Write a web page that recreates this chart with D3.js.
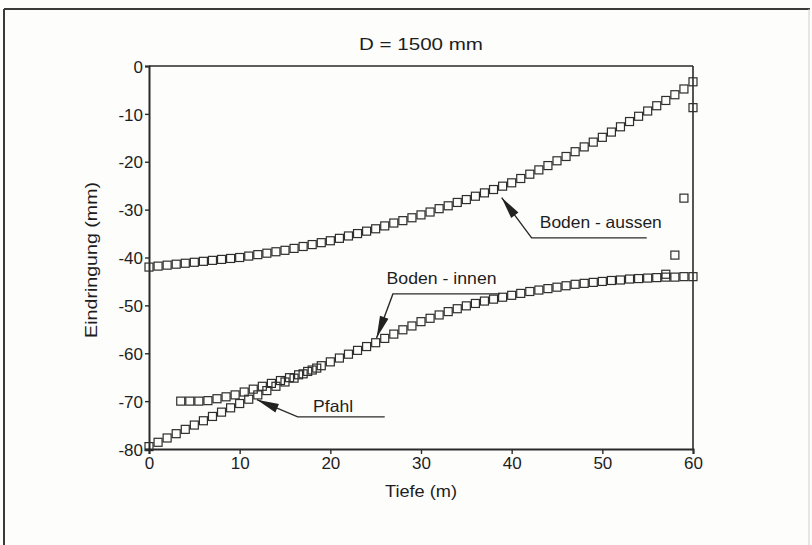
<!DOCTYPE html>
<html>
<head>
<meta charset="utf-8">
<script src="https://cdn.jsdelivr.net/npm/d3@7"></script>
<style>
  html, body { margin: 0; padding: 0; background: #fdfdfc; }
  svg { display: block; }
  text { font-family: "Liberation Sans", Arial, sans-serif; fill: #1e1e1e; }
</style>
</head>
<body>
<svg id="chart" width="812" height="545"></svg>
<script>
// ---------- data ----------
const title = "D = 1500 mm";
const xLabel = "Tiefe (m)";
const yLabel = "Eindringung (mm)";
const xTicks = [0, 10, 20, 30, 40, 50, 60];
const yTicks = [0, -10, -20, -30, -40, -50, -60, -70, -80];

const aussenX = d3.range(0, 61);
const aussenY = [-42.0,-41.8,-41.6,-41.4,-41.2,-41.0,-40.8,-40.6,-40.4,-40.2,
  -40.0,-39.7,-39.4,-39.1,-38.8,-38.5,-38.1,-37.7,-37.3,-36.9,
  -36.5,-36.0,-35.5,-35.0,-34.5,-34.0,-33.4,-32.8,-32.3,-31.7,
  -31.1,-30.5,-29.8,-29.2,-28.5,-27.9,-27.2,-26.5,-25.8,-25.1,
  -24.4,-23.5,-22.6,-21.7,-20.8,-19.8,-18.9,-17.9,-16.9,-15.9,
  -14.9,-13.8,-12.7,-11.6,-10.5,-9.4,-8.3,-7.2,-6.0,-4.8,-3.3];

const innenX = d3.range(0, 61);
const innenY = [-79.5,-78.6,-77.7,-76.8,-75.9,-75.0,-74.1,-73.2,-72.3,-71.4,
  -70.5,-69.6,-68.7,-67.8,-66.9,-66.0,-65.2,-64.3,-63.5,-62.6,
  -61.8,-61.0,-60.2,-59.4,-58.6,-57.8,-56.9,-56.0,-55.1,-54.3,
  -53.4,-52.7,-52.0,-51.3,-50.7,-50.1,-49.6,-49.1,-48.7,-48.3,
  -47.9,-47.5,-47.1,-46.8,-46.5,-46.2,-45.9,-45.6,-45.4,-45.2,
  -45.0,-44.8,-44.7,-44.5,-44.4,-44.3,-44.2,-44.1,-44.1,-44.0,-44.0];

const pfahlX = [3.5,4.5,5.5,6.5,7.5,8.5,9.5,10.5,11.5,12.5,13.5,14.5,15.5,16.5,17.5,18.5,
  57,58,59,60];
const pfahlY = [-70.0,-70.0,-70.0,-69.9,-69.5,-69.1,-68.7,-68.1,-67.5,-66.9,-66.3,-65.7,-65.1,-64.5,-63.8,-63.1,
  -43.5,-39.5,-27.6,-8.7];

// annotations: label, arrow tip, elbow, end of underline (data coords)
const annoLabels = ["Boden - aussen", "Boden - innen", "Pfahl"];
const annoTip   = [[38.9,-27.5],[25.1,-56.8],[11.9,-69.7]];
const annoElbow = [[42.2,-35.9],[26.9,-47.6],[16.4,-73.3]];
const annoEndX  = [54.9, 38.7, 26.0];
const annoTextAt = [[43.1,-33.8],[26.2,-45.6],[18.1,-72.2]];
const annoTextLen = [122, 110, 40];

// ---------- drawing ----------
const svg = d3.select("#chart");
const x = d3.scaleLinear().domain([0, 60]).range([149, 693]);
const y = d3.scaleLinear().domain([-80, 0]).range([449, 66]);
const ink = "#2a2a2a";

// outer page frame
svg.append("line").attr("x1", 4).attr("y1", 9).attr("x2", 4).attr("y2", 545)
  .attr("stroke", "#3a3a3a").attr("stroke-width", 2);
svg.append("line").attr("x1", 4).attr("y1", 9).attr("x2", 810).attr("y2", 9)
  .attr("stroke", "#3a3a3a").attr("stroke-width", 2);
svg.append("line").attr("x1", 809).attr("y1", 9).attr("x2", 809).attr("y2", 545)
  .attr("stroke", "#cfcfcf").attr("stroke-width", 1);

// title
svg.append("text").attr("x", x(30)).attr("y", 50)
  .attr("text-anchor", "middle").attr("font-size", 16.5)
  .attr("textLength", 124).attr("lengthAdjust", "spacingAndGlyphs")
  .text(title);

// plot frame (top & right)
svg.append("line").attr("x1", x(0)).attr("x2", x(60)).attr("y1", y(0)).attr("y2", y(0))
  .attr("stroke", ink).attr("stroke-width", 1.6);
svg.append("line").attr("x1", x(60)).attr("x2", x(60)).attr("y1", y(0)).attr("y2", y(-80))
  .attr("stroke", ink).attr("stroke-width", 1.6);

// axes
const fmt = d => String(d);
const xAxis = d3.axisBottom(x).tickValues(xTicks).tickSize(5).tickPadding(2).tickFormat(fmt);
const yAxis = d3.axisLeft(y).tickValues(yTicks).tickSize(4).tickPadding(2).tickFormat(fmt);

const gx = svg.append("g").attr("transform", `translate(0,${y(-80)})`).call(xAxis);
const gy = svg.append("g").attr("transform", `translate(${x(0)},0)`).call(yAxis);
[gx, gy].forEach(g => {
  g.select(".domain").attr("stroke", ink).attr("stroke-width", 2);
  g.selectAll(".tick line").attr("stroke", ink).attr("stroke-width", 1.4);
  g.selectAll(".tick text").attr("font-size", 17).attr("fill", "#1e1e1e")
    .attr("font-family", "'Liberation Sans', Arial, sans-serif");
});
gy.selectAll(".tick text").attr("dy", "0.36em");
gx.selectAll(".tick text").attr("dy", "0.75em");

// axis labels
svg.append("text").attr("x", x(30)).attr("y", 497)
  .attr("text-anchor", "middle").attr("font-size", 17)
  .attr("textLength", 72).attr("lengthAdjust", "spacingAndGlyphs")
  .text(xLabel);
svg.append("text").attr("transform", `translate(97,${y(-40.5)}) rotate(-90)`)
  .attr("text-anchor", "middle").attr("font-size", 17)
  .attr("textLength", 156).attr("lengthAdjust", "spacingAndGlyphs")
  .text(yLabel);

// markers
const series = [
  { xs: aussenX, ys: aussenY },
  { xs: innenX, ys: innenY },
  { xs: pfahlX, ys: pfahlY }
];
const ms = 8;
series.forEach(s => {
  svg.append("g").selectAll("rect")
    .data(s.xs.map((v, i) => [v, s.ys[i]]))
    .join("rect")
    .attr("x", d => x(d[0]) - ms / 2)
    .attr("y", d => y(d[1]) - ms / 2)
    .attr("width", ms).attr("height", ms)
    .attr("fill", "none").attr("stroke", "#2e2e2e").attr("stroke-width", 1.2);
});

// annotations
annoLabels.forEach((lab, i) => {
  const tx = x(annoTip[i][0]), ty = y(annoTip[i][1]);
  const ex = x(annoElbow[i][0]), ey = y(annoElbow[i][1]);
  const endX = x(annoEndX[i]);
  svg.append("path")
    .attr("d", `M${tx},${ty}L${ex},${ey}L${endX},${ey}`)
    .attr("fill", "none").attr("stroke", ink).attr("stroke-width", 1.4);
  // arrowhead
  const dx = ex - tx, dy = ey - ty, len = Math.hypot(dx, dy);
  const ux = dx / len, uy = dy / len;
  const L = 22, W = 4.5;
  const bx = tx + ux * L, by = ty + uy * L;
  svg.append("path")
    .attr("d", `M${tx},${ty}L${bx - uy * W},${by + ux * W}L${bx + uy * W},${by - ux * W}Z`)
    .attr("fill", "#222");
  svg.append("text")
    .attr("x", x(annoTextAt[i][0])).attr("y", y(annoTextAt[i][1]))
    .attr("font-size", 16.5)
    .attr("textLength", annoTextLen[i]).attr("lengthAdjust", "spacingAndGlyphs")
    .text(lab);
});
</script>
</body>
</html>
